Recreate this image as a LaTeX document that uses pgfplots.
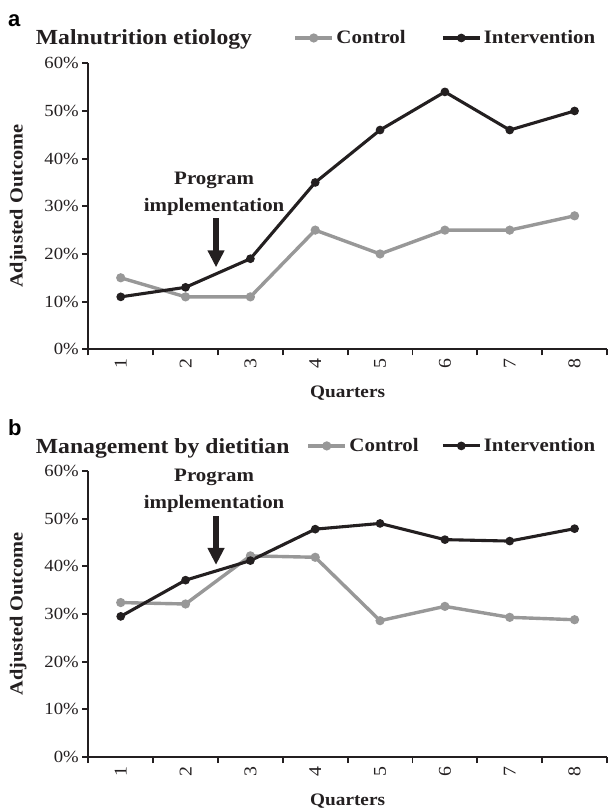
\documentclass[border=0pt]{standalone}
\usepackage{fontspec}
\setmainfont{Liberation Serif}[FakeStretch=1.1]
\newfontfamily\sansbold{Liberation Sans}[BoldFont={* Bold}]
\usepackage{pgfplots}
\pgfplotsset{compat=1.18}
\usetikzlibrary{arrows.meta}
\definecolor{ctrl}{RGB}{152,152,152}
\definecolor{intv}{RGB}{35,31,32}
\definecolor{txt}{RGB}{35,31,32}

\pgfplotstableread{
x ctrlA intvA ctrlB intvB
0 15 11 32.4 29.5
1 11 13 32.1 37.1
2 11 19 42.2 41.2
3 25 35 41.9 47.8
4 20 46 28.6 49.0
5 25 54 31.6 45.6
6 25 46 29.3 45.3
7 28 50 28.8 47.9
}\data

\pgfplotsset{
  myax/.style={
    scale only axis, width=518.7pt, height=286pt, anchor=south west,
    xmin=-0.5, xmax=7.5, ymin=0, ymax=60,
    axis lines=left,
    axis line style={-, line width=1.8pt, color=txt},
    tick align=outside,
    xtick={0,1,2,3,4,5,6,7},
    xticklabels={1,2,3,4,5,6,7,8},
    minor xtick={-0.5,0.5,1.5,2.5,3.5,4.5,5.5,6.5,7.5},
    major x tick style={draw=none},
    minor x tick style={line width=1.8pt, color=txt},
    minor tick length=6pt,
    ytick={0,10,20,30,40,50,60},
    yticklabel={\pgfmathprintnumber{\tick}\%},
    y tick style={line width=1.8pt, color=txt},
    major tick length=6pt,
    /pgf/number format/assume math mode=true,
    tick label style={font=\fontsize{17}{18}\selectfont, color=txt},
    x tick label style={rotate=90, anchor=east, font=\fontsize{18}{19}\selectfont},
    xlabel={Quarters},
    ylabel={Adjusted Outcome},
    every axis x label/.style={at={(axis description cs:0.5,-0.154)}, anchor=center, font=\bfseries\fontsize{17.5}{19}\selectfont, color=txt},
    every axis y label/.style={at={(axis description cs:-0.135,0.5)}, rotate=90, anchor=center, font=\bfseries\fontsize{18.5}{20}\selectfont, color=txt},
    clip=false,
    legend columns=2,
    legend style={draw=none, fill=none, inner sep=0pt, anchor=east,
      font=\bfseries\fontsize{19}{20}\selectfont, text=txt,
      nodes={inner xsep=2.5pt, inner ysep=0pt},
      legend image code/.code={\draw[mark repeat=2,mark phase=2,##1] plot coordinates {(0pt,0pt) (18.5pt,0pt) (37pt,0pt)};}},
  },
  cline/.style={color=ctrl, line width=3.4pt, mark=*, mark size=2.8pt, mark options={solid}},
  iline/.style={color=intv, line width=3.1pt, mark=*, mark size=2.7pt, mark options={solid}},
}

\begin{document}
\begin{tikzpicture}
\useasboundingbox (0,0) rectangle (608pt,808pt);

% panel a
\node[anchor=base west, font=\sansbold\bfseries\fontsize{22}{24}\selectfont, text=black, inner sep=0pt] at (8pt,781pt) {a};
\node[anchor=base west, font=\bfseries\fontsize{21.5}{24}\selectfont, text=txt, inner sep=0pt] at (35.7pt,763pt) {Malnutrition etiology};
\begin{axis}[myax, at={(88.3pt,458.7pt)},
  legend style={at={(axis description cs:0.9827,1.0885)}, /tikz/every even column/.append style={column sep=33pt}}]
\addplot[cline] table[x=x, y=ctrlA] {\data};
\addlegendentry{Control}
\addplot[iline] table[x=x, y=intvA] {\data};
\addlegendentry{Intervention}
\node[align=center, font=\bfseries\fontsize{19}{27}\selectfont, text=txt] at (axis cs:1.44,32.7) {Program\\implementation};
\draw[line width=5.5pt, color=txt, -{Triangle[width=16pt,length=17pt]}] (axis cs:1.47,27.5) -- (axis cs:1.47,17.2);
\end{axis}

% panel b
\node[anchor=base west, font=\sansbold\bfseries\fontsize{22}{24}\selectfont, text=black, inner sep=0pt] at (8pt,372pt) {b};
\node[anchor=base west, font=\bfseries\fontsize{21.5}{24}\selectfont, text=txt, inner sep=0pt] at (35.7pt,354pt) {Management by dietitian};
\begin{axis}[myax, at={(88.3pt,51pt)},
  legend style={at={(axis description cs:0.9827,1.0877)}, /tikz/every even column/.append style={column sep=20pt}}]
\addplot[cline] table[x=x, y=ctrlB] {\data};
\addlegendentry{Control}
\addplot[iline] table[x=x, y=intvB] {\data};
\addlegendentry{Intervention}
\node[align=center, font=\bfseries\fontsize{19}{27}\selectfont, text=txt] at (axis cs:1.44,55.9) {Program\\implementation};
\draw[line width=5.5pt, color=txt, -{Triangle[width=16pt,length=17pt]}] (axis cs:1.47,50.5) -- (axis cs:1.47,40.3);
\end{axis}
\end{tikzpicture}
\end{document}
